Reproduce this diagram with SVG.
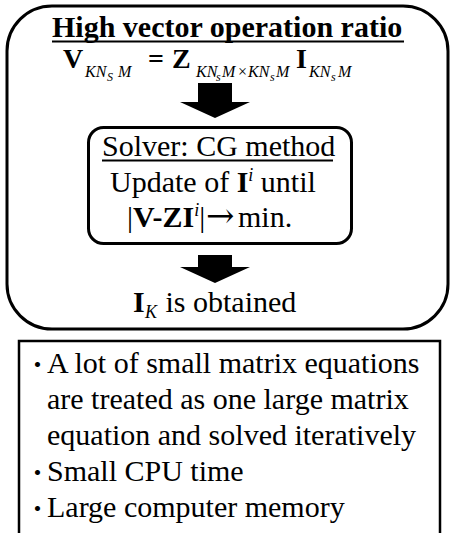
<svg xmlns="http://www.w3.org/2000/svg" width="451" height="533" viewBox="0 0 451 533">
<style>
text{font-family:'Liberation Serif','DejaVu Serif',serif;fill:#000}
.b{font-weight:bold}
.i{font-style:italic}
.box{fill:none;stroke:#000}
.arr{fill:#000;stroke:none}
.ul{stroke:#000;stroke-width:2}
text.dot{font-family:'Noto Sans CJK JP',sans-serif}
</style>
<rect width="451" height="533" fill="#fff"/>
<g id="outer-box">
<rect class="box" x="7" y="6" width="441" height="323" rx="45" ry="45" stroke-width="3"/>
</g>
<g id="title">
<text class="b" x="52" y="37" font-size="30" font-family="Liberation Serif, serif">High vector operation ratio</text>
<line class="ul" x1="52" y1="41.5" x2="404" y2="41.5"/>
</g>
<g id="equation">
<text font-size="28" font-family="Liberation Serif, serif">
<tspan class="b" x="63" y="68">V</tspan>
<tspan class="i" x="85" y="77" font-size="16">KN</tspan>
<tspan class="i" x="107" y="81" font-size="12">S</tspan>
<tspan class="i" x="118" y="77" font-size="16">M</tspan>
<tspan class="b" x="148" y="68">=</tspan>
<tspan class="b" x="172" y="68">Z</tspan>
<tspan class="i" x="196" y="77" font-size="16">KN</tspan>
<tspan class="i" x="216" y="81" font-size="12">s</tspan>
<tspan class="i" x="222" y="77" font-size="16">M</tspan>
<tspan x="238" y="77" font-size="16">×</tspan>
<tspan class="i" x="248" y="77" font-size="16">KN</tspan>
<tspan class="i" x="270" y="81" font-size="12">s</tspan>
<tspan class="i" x="276" y="77" font-size="16">M</tspan>
<tspan class="b" x="296" y="68">I</tspan>
<tspan class="i" x="309" y="77" font-size="16">KN</tspan>
<tspan class="i" x="331" y="81" font-size="12">s</tspan>
<tspan class="i" x="338" y="77" font-size="16">M</tspan>
</text>
</g>
<g id="connectors">
<polygon class="arr" points="198,83 232,83 232,102 250,102 215,118 180,102 198,102"/>
<polygon class="arr" points="198,255 232,255 232,267 250,267 215,283 180,267 198,267"/>
</g>
<g id="solver">
<rect class="box" x="88.5" y="127.5" width="263" height="116" rx="15" ry="15" stroke-width="3"/>
<text x="102" y="156" font-size="30" font-family="Liberation Serif, serif">Solver: CG method</text>
<line class="ul" x1="102" y1="160.5" x2="333" y2="160.5"/>
<text font-size="30" font-family="Liberation Serif, serif"><tspan x="110" y="192">Update of </tspan><tspan class="b">I</tspan><tspan class="i" font-size="18" dy="-11">i</tspan><tspan dy="11"> until</tspan></text>
<text font-size="30" font-family="Liberation Serif, serif"><tspan x="127" y="227">|</tspan><tspan class="b">V-ZI</tspan><tspan class="i" font-size="18" dy="-11">i</tspan><tspan dy="11">|</tspan><tspan x="206" font-family="DejaVu Serif, serif" font-size="34">→</tspan><tspan x="238">min.</tspan></text>
</g>
<g id="result">
<text font-size="30" font-family="Liberation Serif, serif"><tspan class="b" x="133" y="312">I</tspan><tspan class="i" font-size="18" x="145" y="318">K</tspan><tspan x="158" y="312"> is obtained</tspan></text>
</g>
<g id="notes">
<rect class="box" x="19" y="341" width="421" height="200" stroke-width="2.5"/>
<text class="dot" x="37.5" y="373" font-size="24" text-anchor="middle">・</text>
<text x="47" y="373" font-size="30" font-family="Liberation Serif, serif">A lot of small matrix equations</text>
<text x="47" y="409" font-size="30" font-family="Liberation Serif, serif">are treated as one large matrix</text>
<text x="47" y="445" font-size="30" font-family="Liberation Serif, serif">equation and solved iteratively</text>
<text class="dot" x="37.5" y="481" font-size="24" text-anchor="middle">・</text>
<text x="47" y="481" font-size="30" font-family="Liberation Serif, serif">Small CPU time</text>
<text class="dot" x="37.5" y="517" font-size="24" text-anchor="middle">・</text>
<text x="47" y="517" font-size="30" font-family="Liberation Serif, serif">Large computer memory</text>
</g>
</svg>
